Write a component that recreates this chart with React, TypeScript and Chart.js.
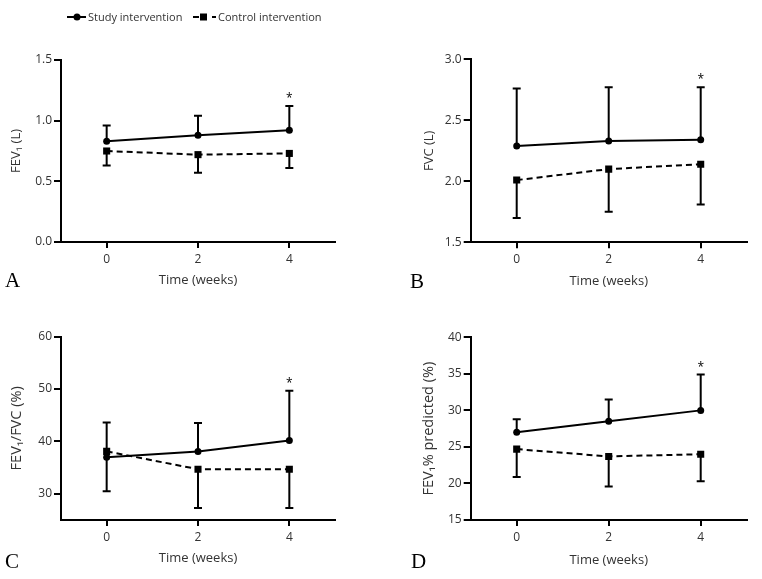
import React, { useEffect, useRef } from "react";
import { Chart, registerables } from "chart.js";

Chart.register(...registerables);

// ---- data ----
const weeks = [0, 2, 4];
const xTicks = [0, 2, 4];

const fev1Study = [0.83, 0.88, 0.92];
const fev1StudyUpper = [0.96, 1.04, 1.12];
const fev1Control = [0.75, 0.72, 0.73];
const fev1ControlLower = [0.63, 0.57, 0.61];
const fev1Ticks = [0, 0.5, 1.0, 1.5];

const fvcStudy = [2.29, 2.33, 2.34];
const fvcStudyUpper = [2.76, 2.77, 2.77];
const fvcControl = [2.01, 2.1, 2.14];
const fvcControlLower = [1.7, 1.75, 1.81];
const fvcTicks = [1.5, 2.0, 2.5, 3.0];

const ratioStudy = [37.0, 38.1, 40.2];
const ratioStudyUpper = [43.6, 43.5, 49.7];
const ratioControl = [38.1, 34.7, 34.7];
const ratioControlLower = [30.5, 27.3, 27.3];
const ratioTicks = [30, 40, 50, 60];

const predStudy = [27.0, 28.5, 30.0];
const predStudyUpper = [28.8, 31.5, 34.9];
const predControl = [24.7, 23.7, 24.0];
const predControlLower = [20.9, 19.6, 20.3];
const predTicks = [15, 20, 25, 30, 35, 40];

const seriesNames = ["Study intervention", "Control intervention"];
const xTitle = "Time (weeks)";
const starWeekIndex = 2;

const FONT = "'Open Sans', 'DejaVu Sans', sans-serif";
const TEXT = "#333333";

type PanelCfg = {
  letter: string;
  left: number;
  top: number;
  width: number;
  height: number;
  padLeft: number;
  padRight: number;
  padTop: number;
  padBottom: number;
  yWidth: number;
  xHeight: number;
  yMin: number;
  yMax: number;
  yTicks: number[];
  decimals: number;
  yTitle: string;
  yTitleSize: number;
  study: number[];
  studyUpper: number[];
  control: number[];
  controlLower: number[];
  letterLeft: number;
  letterTop: number;
};

const panels: PanelCfg[] = [
  {
    letter: "A", left: 0, top: 0, width: 380, height: 300,
    padLeft: 8.5, padRight: 45, padTop: 60, padBottom: 12.2,
    yWidth: 52.5, xHeight: 45.8,
    yMin: 0, yMax: 1.5, yTicks: fev1Ticks, decimals: 1,
    yTitle: "FEV\u2081 (L)", yTitleSize: 13,
    study: fev1Study, studyUpper: fev1StudyUpper, control: fev1Control, controlLower: fev1ControlLower,
    letterLeft: 5, letterTop: 269.5,
  },
  {
    letter: "B", left: 380, top: 0, width: 382, height: 300,
    padLeft: 41.2, padRight: 15.3, padTop: 59.3, padBottom: 11.2,
    yWidth: 49.5, xHeight: 46.5,
    yMin: 1.5, yMax: 3.0, yTicks: fvcTicks, decimals: 1,
    yTitle: "FVC (L)", yTitleSize: 13,
    study: fvcStudy, studyUpper: fvcStudyUpper, control: fvcControl, controlLower: fvcControlLower,
    letterLeft: 410, letterTop: 270.5,
  },
  {
    letter: "C", left: 0, top: 300, width: 380, height: 279,
    padLeft: 8.3, padRight: 45, padTop: 36.7, padBottom: 13.2,
    yWidth: 52.7, xHeight: 45.8,
    yMin: 25, yMax: 60, yTicks: ratioTicks, decimals: 0,
    yTitle: "FEV\u2081/FVC (%)", yTitleSize: 14.5,
    study: ratioStudy, studyUpper: ratioStudyUpper, control: ratioControl, controlLower: ratioControlLower,
    letterLeft: 5, letterTop: 550.5,
  },
  {
    letter: "D", left: 380, top: 300, width: 382, height: 279,
    padLeft: 40.3, padRight: 15.3, padTop: 37.3, padBottom: 11.2,
    yWidth: 50.4, xHeight: 47.8,
    yMin: 15, yMax: 40, yTicks: predTicks, decimals: 0,
    yTitle: "FEV\u2081% predicted (%)", yTitleSize: 14.5,
    study: predStudy, studyUpper: predStudyUpper, control: predControl, controlLower: predControlLower,
    letterLeft: 411, letterTop: 550.5,
  },
];

const errorBarPlugin = {
  id: "errorBars",
  beforeDatasetsDraw(chart: any) {
    const { ctx, scales } = chart;
    const x = scales.x;
    const y = scales.y;
    chart.data.datasets.forEach((ds: any) => {
      const bounds: number[] | undefined = ds.errorBounds;
      if (!bounds) return;
      ctx.save();
      ctx.strokeStyle = "#000";
      ctx.lineWidth = 2;
      ctx.setLineDash([]);
      ds.data.forEach((p: any, j: number) => {
        const px = x.getPixelForValue(p.x);
        const py = y.getPixelForValue(p.y);
        const pb = y.getPixelForValue(bounds[j]);
        ctx.beginPath();
        ctx.moveTo(px, py);
        ctx.lineTo(px, pb);
        ctx.moveTo(px - 4, pb);
        ctx.lineTo(px + 4, pb);
        ctx.stroke();
      });
      ctx.restore();
    });
  },
  afterDatasetsDraw(chart: any) {
    const { ctx, scales } = chart;
    const ds: any = chart.data.datasets[0];
    if (!ds || !ds.errorBounds) return;
    const px = scales.x.getPixelForValue(weeks[starWeekIndex]);
    const py = scales.y.getPixelForValue(ds.errorBounds[starWeekIndex]);
    ctx.save();
    ctx.fillStyle = "#000";
    ctx.font = `12px ${FONT}`;
    ctx.textAlign = "center";
    ctx.textBaseline = "alphabetic";
    ctx.fillText("*", px, py - 4);
    ctx.restore();
  },
};

function Panel({ cfg }: { cfg: PanelCfg }) {
  const ref = useRef<HTMLCanvasElement | null>(null);
  useEffect(() => {
    if (!ref.current) return;
    const chart = new Chart(ref.current, {
      type: "line",
      data: {
        datasets: [
          {
            label: seriesNames[0],
            data: weeks.map((w, i) => ({ x: w, y: cfg.study[i] })),
            errorBounds: cfg.studyUpper,
            borderColor: "#000",
            backgroundColor: "#000",
            borderWidth: 2,
            pointStyle: "circle",
            pointRadius: 3.5,
            pointBorderWidth: 0,
            tension: 0,
          } as any,
          {
            label: seriesNames[1],
            data: weeks.map((w, i) => ({ x: w, y: cfg.control[i] })),
            errorBounds: cfg.controlLower,
            borderColor: "#000",
            backgroundColor: "#000",
            borderWidth: 2,
            borderDash: [6, 4],
            pointStyle: "rect",
            pointRadius: 5,
            pointBorderWidth: 0,
            tension: 0,
          } as any,
        ],
      },
      options: {
        animation: false,
        responsive: false,
        maintainAspectRatio: false,
        events: [],
        layout: {
          padding: { left: cfg.padLeft, right: cfg.padRight, top: cfg.padTop, bottom: cfg.padBottom },
        },
        plugins: {
          legend: { display: false },
          tooltip: { enabled: false },
        },
        scales: {
          x: {
            type: "linear",
            min: -1,
            max: 5,
            afterBuildTicks: (s: any) => {
              s.ticks = xTicks.map((v) => ({ value: v }));
            },
            afterFit: (s: any) => {
              s.height = cfg.xHeight;
            },
            grid: {
              display: true,
              drawOnChartArea: false,
              drawTicks: true,
              tickLength: 6,
              color: "#000",
              lineWidth: 2,
            },
            border: { display: true, color: "#000", width: 2 },
            ticks: {
              color: TEXT,
              font: { family: FONT, size: 12 },
              padding: 4,
              maxRotation: 0,
              callback: (v: any) => String(v),
            },
            title: {
              display: true,
              text: xTitle,
              color: TEXT,
              font: { family: FONT, size: 13 },
              padding: { top: 0, bottom: 0 },
            },
          },
          y: {
            type: "linear",
            min: cfg.yMin,
            max: cfg.yMax,
            afterBuildTicks: (s: any) => {
              s.ticks = cfg.yTicks.map((v) => ({ value: v }));
            },
            afterFit: (s: any) => {
              s.width = cfg.yWidth;
            },
            grid: {
              display: true,
              drawOnChartArea: false,
              drawTicks: true,
              tickLength: 7,
              color: "#000",
              lineWidth: 2,
            },
            border: { display: true, color: "#000", width: 2 },
            ticks: {
              color: TEXT,
              font: { family: FONT, size: 12 },
              padding: 2,
              callback: (v: any) => Number(v).toFixed(cfg.decimals),
            },
            title: {
              display: true,
              text: cfg.yTitle,
              color: TEXT,
              font: { family: FONT, size: cfg.yTitleSize },
              padding: { top: 0, bottom: 0 },
            },
          },
        },
      },
      plugins: [errorBarPlugin],
    } as any);
    return () => chart.destroy();
  }, [cfg]);
  return (
    <canvas
      ref={ref}
      width={cfg.width}
      height={cfg.height}
      style={{ position: "absolute", left: cfg.left, top: cfg.top, width: cfg.width, height: cfg.height }}
    />
  );
}

export default function App() {
  return (
    <div
      style={{
        position: "absolute",
        left: 0,
        top: 0,
        width: 762,
        height: 579,
        background: "#fff",
        overflow: "hidden",
      }}
    >
      {panels.map((p) => (
        <Panel key={p.letter} cfg={p} />
      ))}
      {panels.map((p) => (
        <span
          key={"l" + p.letter}
          style={{
            position: "absolute",
            left: p.letterLeft,
            top: p.letterTop,
            fontFamily: "'Liberation Serif', 'DejaVu Serif', serif",
            fontSize: 21,
            lineHeight: "21px",
            color: "#000",
          }}
        >
          {p.letter}
        </span>
      ))}
      {/* legend */}
      <svg style={{ position: "absolute", left: 66, top: 10 }} width={22} height={14}>
        <line x1={1} y1={7} x2={20} y2={7} stroke="#000" strokeWidth={2} />
        <circle cx={11} cy={7} r={3.5} fill="#000" />
      </svg>
      <span
        style={{
          position: "absolute",
          left: 88,
          top: 9,
          fontFamily: FONT,
          fontSize: 11,
          lineHeight: "16px",
          color: TEXT,
          whiteSpace: "nowrap",
        }}
      >
        {seriesNames[0]}
      </span>
      <svg style={{ position: "absolute", left: 192, top: 10 }} width={26} height={14}>
        <line x1={1} y1={7} x2={7} y2={7} stroke="#000" strokeWidth={2} />
        <rect x={8} y={3.5} width={7} height={7} fill="#000" />
        <line x1={20} y1={7} x2={24} y2={7} stroke="#000" strokeWidth={2} />
      </svg>
      <span
        style={{
          position: "absolute",
          left: 218,
          top: 9,
          fontFamily: FONT,
          fontSize: 11,
          lineHeight: "16px",
          color: TEXT,
          whiteSpace: "nowrap",
        }}
      >
        {seriesNames[1]}
      </span>
    </div>
  );
}
